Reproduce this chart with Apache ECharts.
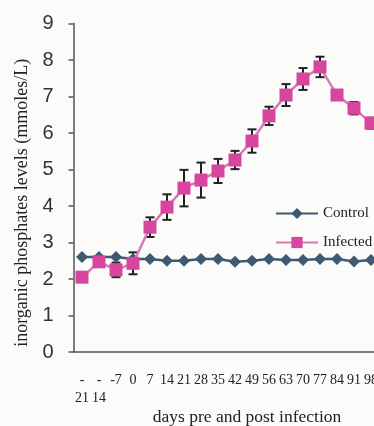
<!DOCTYPE html>
<html>
<head>
<meta charset="utf-8">
<script src="https://cdn.jsdelivr.net/npm/echarts@6/dist/echarts.min.js"></script>
<style>
html,body{margin:0;padding:0;background:#fbfbf9;}
#main{width:374px;height:426px;}
</style>
</head>
<body>
<div id="main"></div>
<script>
var days = ['-21','-14','-7','0','7','14','21','28','35','42','49','56','63','70','77','84','91','98'];
var control = [2.6,2.6,2.6,2.55,2.55,2.5,2.5,2.55,2.55,2.47,2.5,2.55,2.52,2.52,2.55,2.55,2.48,2.52];
var infected = [2.05,2.47,2.25,2.43,3.42,3.97,4.49,4.71,4.96,5.26,5.78,6.47,7.04,7.48,7.81,7.04,6.68,6.27];
var infectedErr = [0.1,0.1,0.2,0.3,0.27,0.35,0.5,0.48,0.33,0.25,0.32,0.25,0.3,0.3,0.28,0.1,0.17,0.15];
var yTicks = [0,1,2,3,4,5,6,7,8,9];

var myChart = echarts.init(document.getElementById('main'));

var errData = [];
for (var i = 0; i < days.length; i++) {
	errData.push([i, infected[i] - infectedErr[i], infected[i] + infectedErr[i]]);
}

function renderErr(params, api) {
	var x = api.value(0);
	var lo = api.coord([x, api.value(1)]);
	var hi = api.coord([x, api.value(2)]);
	var w = 4.5;
	var st = {stroke: '#222', lineWidth: 2};
	return {
		type: 'group',
		children: [
			{type: 'line', shape: {x1: lo[0], y1: lo[1], x2: hi[0], y2: hi[1]}, style: st},
			{type: 'line', shape: {x1: lo[0]-w, y1: lo[1], x2: lo[0]+w, y2: lo[1]}, style: st},
			{type: 'line', shape: {x1: hi[0]-w, y1: hi[1], x2: hi[0]+w, y2: hi[1]}, style: st}
		]
	};
}

var option = {
	backgroundColor: '#fbfbf9',
	animation: false,
	grid: {left: 73.5, top: 23.5, right: -5.5, bottom: 74, containLabel: false, outerBoundsMode: 'none'},
	legend: {
		left: 270,
		top: 201,
		orient: 'vertical',
		itemGap: 14,
		itemWidth: 42,
		itemHeight: 14,
		textStyle: {fontFamily: 'Liberation Serif', fontSize: 15, color: '#222'},
		data: ['Control', 'Infected']
	},
	xAxis: {
		type: 'category',
		data: days,
		name: 'days pre and post infection',
		nameLocation: 'middle',
		nameGap: 56,
		nameMoveOverlap: false,
		nameTextStyle: {fontFamily: 'Liberation Serif', fontSize: 17.5, color: '#222', padding: [0, 0, 0, 41]},
		axisLine: {lineStyle: {color: '#555', width: 1.5}},
		axisTick: {length: 5, lineStyle: {color: '#555', width: 1.5}},
		axisLabel: {
			interval: 0,
			margin: 19,
			fontFamily: 'Liberation Serif',
			fontSize: 14,
			color: '#222',
			lineHeight: 18,
			formatter: function (v) {
				return v.length > 2 ? v.charAt(0) + '\n' + v.slice(1) : v;
			}
		}
	},
	yAxis: {
		type: 'value',
		min: yTicks[0],
		max: yTicks[yTicks.length - 1],
		interval: 1,
		name: 'inorganic phosphates levels (mmoles/L)',
		nameLocation: 'middle',
		nameGap: 42,
		nameMoveOverlap: false,
		nameTextStyle: {fontFamily: 'Liberation Serif', fontSize: 18, color: '#222', padding: [0, 30, 0, 0]},
		splitLine: {show: false},
		axisLine: {show: true, lineStyle: {color: '#555', width: 1.5}},
		axisTick: {show: true, length: 5, lineStyle: {color: '#555', width: 1.5}},
		axisLabel: {fontFamily: 'Liberation Sans', fontSize: 20, color: '#333', margin: 20}
	},
	series: [
		{
			name: 'Control',
			type: 'line',
			data: control,
			symbol: 'diamond',
			symbolSize: 12,
			z: 3,
			itemStyle: {color: '#3f5972'},
			lineStyle: {color: '#3f5972', width: 2.5}
		},
		{
			name: 'Infected',
			type: 'line',
			data: infected,
			symbol: 'rect',
			symbolSize: 13,
			z: 4,
			itemStyle: {color: '#d8459f'},
			lineStyle: {color: '#d77ab2', width: 2.5}
		},
		{
			name: 'err',
			type: 'custom',
			renderItem: renderErr,
			data: errData,
			z: 2,
			encode: {x: 0, y: [1, 2]},
			silent: true
		}
	]
};

myChart.setOption(option);
</script>
</body>
</html>
